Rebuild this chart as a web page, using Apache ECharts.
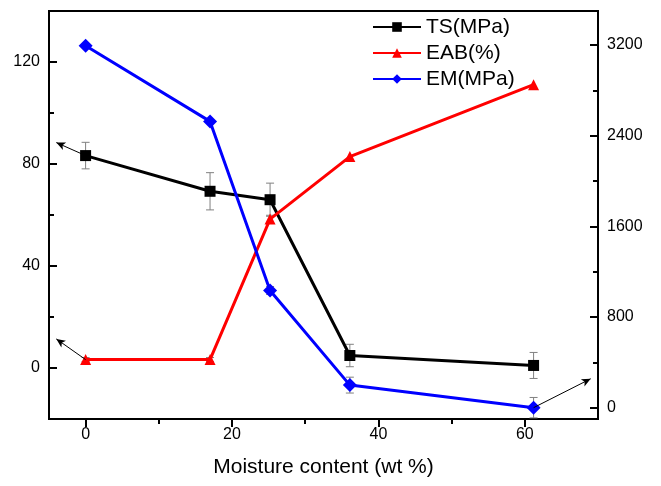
<!DOCTYPE html>
<html>
<head>
<meta charset="utf-8">
<script src="https://cdn.jsdelivr.net/npm/echarts@6/dist/echarts.min.js"></script>
<style>
html,body{margin:0;padding:0;background:#fff;}
#chart{width:661px;height:486px;}
</style>
</head>
<body>
<div id="chart"></div>
<script>
// ---- data ----
var moisture = [0, 17, 25.2, 36.1, 61.2];
var tsValues = [83.3, 69.3, 66.0, 4.9, 1.0];
var tsErrors = [5.2, 7.3, 6.5, 4.4, 5.1];
var eabValues = [3.3, 3.3, 58.4, 82.9, 111.1];
var eabErrors = [0.8, 0.8, 1.5, 0, 0];
var emValues = [3194, 2526, 1034, 199, 0];
var emErrors = [0, 0, 35, 70, 90];
var xTicks = [0, 20, 40, 60];
var xMinorTicks = [10, 30, 50];
var leftTicks = [0, 40, 80, 120];
var leftMinorTicks = [20, 60, 100];
var rightTicks = [0, 800, 1600, 2400, 3200];
var rightMinorTicks = [400, 1200, 2000, 2800];
var tsArrow = [[0, 83.3], [-4, 88.4]];
var eabArrow = [[0, 3.3], [-4, 11.4]];
var emArrow = [[61.2, 0], [69, 255]];

var FONT = '"Liberation Sans", Arial, sans-serif';

function pairs(xs, ys) { return xs.map(function (x, i) { return [x, ys[i]]; }); }
function errData(xs, ys, es) { return xs.map(function (x, i) { return [x, ys[i], es[i]]; }); }

function errRender(params, api) {
  var x = api.value(0), y = api.value(1), e = api.value(2);
  if (!e) return null;
  var hi = api.coord([x, y + e]);
  var lo = api.coord([x, y - e]);
  var w = 4;
  var style = { stroke: '#808080', lineWidth: 1 };
  return {
    type: 'group',
    children: [
      { type: 'line', shape: { x1: hi[0], y1: hi[1], x2: lo[0], y2: lo[1] }, style: style },
      { type: 'line', shape: { x1: hi[0] - w, y1: hi[1], x2: hi[0] + w, y2: hi[1] }, style: style },
      { type: 'line', shape: { x1: lo[0] - w, y1: lo[1], x2: lo[0] + w, y2: lo[1] }, style: style }
    ]
  };
}

function arrowLine(a) {
  return {
    silent: true,
    symbol: ['none', 'arrow'],
    symbolSize: [6, 9],
    label: { show: false },
    lineStyle: { color: '#000', width: 1, type: 'solid' },
    data: [[{ coord: a[0] }, { coord: a[1] }]]
  };
}

var blackLine = { color: '#000', width: 2 };
function plain(v) { return String(v); }

var option = {
  animation: false,
  backgroundColor: '#fff',
  textStyle: { fontFamily: FONT },
  grid: { left: 49, right: 63, top: 11, bottom: 67, show: true, borderColor: '#000', borderWidth: 2, backgroundColor: 'transparent' },
  legend: {
    orient: 'vertical',
    left: 372, top: 16,
    itemWidth: 48, itemHeight: 12, itemGap: 4,
    padding: 0,
    textStyle: { fontSize: 21, lineHeight: 22, color: '#000', fontFamily: FONT },
    data: ['TS(MPa)', 'EAB(%)', 'EM(MPa)']
  },
  xAxis: [
    {
      type: 'value', min: -5, max: 70,
      name: 'Moisture content (wt %)', nameLocation: 'middle', nameGap: 38,
      nameTextStyle: { fontSize: 21, color: '#000', fontFamily: FONT },
      axisLine: { show: true, onZero: false, lineStyle: blackLine },
      axisTick: { show: true, inside: false, length: 8, customValues: xTicks, lineStyle: blackLine },
      axisLabel: { customValues: xTicks, fontSize: 16, color: '#000', margin: 8, fontFamily: FONT, formatter: plain },
      splitLine: { show: false }
    },
    {
      type: 'value', min: -5, max: 70, position: 'bottom',
      axisLine: { show: false, onZero: false },
      axisTick: { show: true, inside: false, length: 5, customValues: xMinorTicks, lineStyle: blackLine },
      axisLabel: { show: false },
      splitLine: { show: false }
    }
  ],
  yAxis: [
    {
      type: 'value', min: -20, max: 140, position: 'left',
      axisLine: { show: true, onZero: false, lineStyle: blackLine },
      axisTick: { show: true, inside: true, length: 8, customValues: leftTicks, lineStyle: blackLine },
      axisLabel: { customValues: leftTicks, fontSize: 16, color: '#000', margin: 9, fontFamily: FONT, formatter: plain },
      splitLine: { show: false }
    },
    {
      type: 'value', min: -100, max: 3500, position: 'right',
      axisLine: { show: true, onZero: false, lineStyle: blackLine },
      axisTick: { show: true, inside: true, length: 8, customValues: rightTicks, lineStyle: blackLine },
      axisLabel: { customValues: rightTicks, fontSize: 16, color: '#000', margin: 9, fontFamily: FONT, formatter: plain },
      splitLine: { show: false }
    },
    {
      type: 'value', min: -20, max: 140, position: 'left',
      axisLine: { show: false, onZero: false },
      axisTick: { show: true, inside: true, length: 5, customValues: leftMinorTicks, lineStyle: blackLine },
      axisLabel: { show: false },
      splitLine: { show: false }
    },
    {
      type: 'value', min: -100, max: 3500, position: 'right',
      axisLine: { show: false, onZero: false },
      axisTick: { show: true, inside: true, length: 5, customValues: rightMinorTicks, lineStyle: blackLine },
      axisLabel: { show: false },
      splitLine: { show: false }
    }
  ],
  series: [
    {
      type: 'custom', name: 'tsErr', xAxisIndex: 0, yAxisIndex: 0,
      renderItem: errRender, data: errData(moisture, tsValues, tsErrors), z: 1, silent: true
    },
    {
      type: 'custom', name: 'eabErr', xAxisIndex: 0, yAxisIndex: 0,
      renderItem: errRender, data: errData(moisture, eabValues, eabErrors), z: 1, silent: true
    },
    {
      type: 'custom', name: 'emErr', xAxisIndex: 0, yAxisIndex: 1,
      renderItem: errRender, data: errData(moisture, emValues, emErrors), z: 1, silent: true
    },
    {
      type: 'line', name: 'TS(MPa)', xAxisIndex: 0, yAxisIndex: 0,
      data: pairs(moisture, tsValues),
      symbol: 'rect', symbolSize: 11, showAllSymbol: true,
      itemStyle: { color: '#000' }, lineStyle: { color: '#000', width: 3 },
      markLine: arrowLine(tsArrow), z: 3
    },
    {
      type: 'line', name: 'EAB(%)', xAxisIndex: 0, yAxisIndex: 0,
      data: pairs(moisture, eabValues),
      symbol: 'triangle', symbolSize: 11, showAllSymbol: true,
      itemStyle: { color: '#ff0000' }, lineStyle: { color: '#ff0000', width: 3 },
      markLine: arrowLine(eabArrow), z: 3
    },
    {
      type: 'line', name: 'EM(MPa)', xAxisIndex: 0, yAxisIndex: 1,
      data: pairs(moisture, emValues),
      symbol: 'diamond', symbolSize: 14, showAllSymbol: true,
      itemStyle: { color: '#0000ff' }, lineStyle: { color: '#0000ff', width: 3 },
      markLine: arrowLine(emArrow), z: 3
    }
  ]
};

var chart = echarts.init(document.getElementById('chart'), null, { renderer: 'canvas' });
chart.setOption(option);
</script>
</body>
</html>
